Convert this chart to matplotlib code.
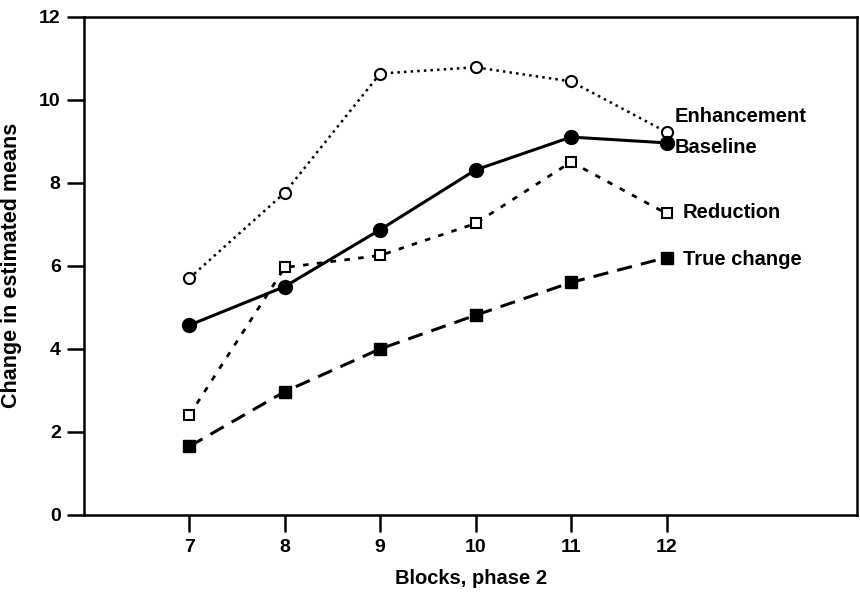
# Line graph: change in estimated means over blocks of phase 2
import matplotlib.pyplot as plt

plt.rcParams['font.family'] = ['Liberation Sans', 'DejaVu Sans']
plt.rcParams['font.weight'] = 'bold'

# data
blocks = [7, 8, 9, 10, 11, 12]
enhancement = [5.7, 7.76, 10.63, 10.78, 10.44, 9.22]
baseline = [4.57, 5.5, 6.87, 8.31, 9.1, 8.96]
reduction = [2.4, 5.96, 6.25, 7.02, 8.5, 7.26]
true_change = [1.65, 2.97, 4.0, 4.81, 5.6, 6.2]

fig = plt.figure(figsize=(8.6, 5.94), dpi=100)
ax = fig.add_axes([0.098, 0.133, 0.899, 0.839])

ax.plot(blocks, enhancement, color='black', linestyle=':', linewidth=1.8,
        marker='o', markersize=8, markerfacecolor='white', markeredgewidth=1.5)
ax.plot(blocks, baseline, color='black', linestyle='-', linewidth=2.2,
        marker='o', markersize=10)
ax.plot(blocks, reduction, color='black', linestyle=(0, (2, 3)), linewidth=2,
        marker='s', markersize=7, markerfacecolor='white', markeredgewidth=1.5)
ax.plot(blocks, true_change, color='black', linestyle=(0, (5, 3)), linewidth=2.2,
        marker='s', markersize=9)

# labels at the right end of each line
ax.text(12.08, 9.6, 'Enhancement', fontsize=14.5, fontweight='bold', va='center')
ax.text(12.08, 8.86, 'Baseline', fontsize=14.5, fontweight='bold', va='center')
ax.text(12.17, 7.28, 'Reduction', fontsize=14.5, fontweight='bold', va='center')
ax.text(12.17, 6.16, 'True change', fontsize=14.5, fontweight='bold', va='center')

ax.set_xlim(5.9, 14.0)
ax.set_ylim(0, 12)
ax.set_xticks(blocks)
ax.set_yticks([0, 2, 4, 6, 8, 10, 12])
ax.tick_params(direction='out', length=12, width=1.8, labelsize=14, pad=5)
for s in ax.spines.values():
    s.set_linewidth(1.8)

ax.set_xlabel('Blocks, phase 2', fontsize=14.5, fontweight='bold', labelpad=10)
ax.set_ylabel('Change in estimated means', fontsize=15.5, fontweight='bold', labelpad=12)

plt.savefig('out.png', dpi=100)
